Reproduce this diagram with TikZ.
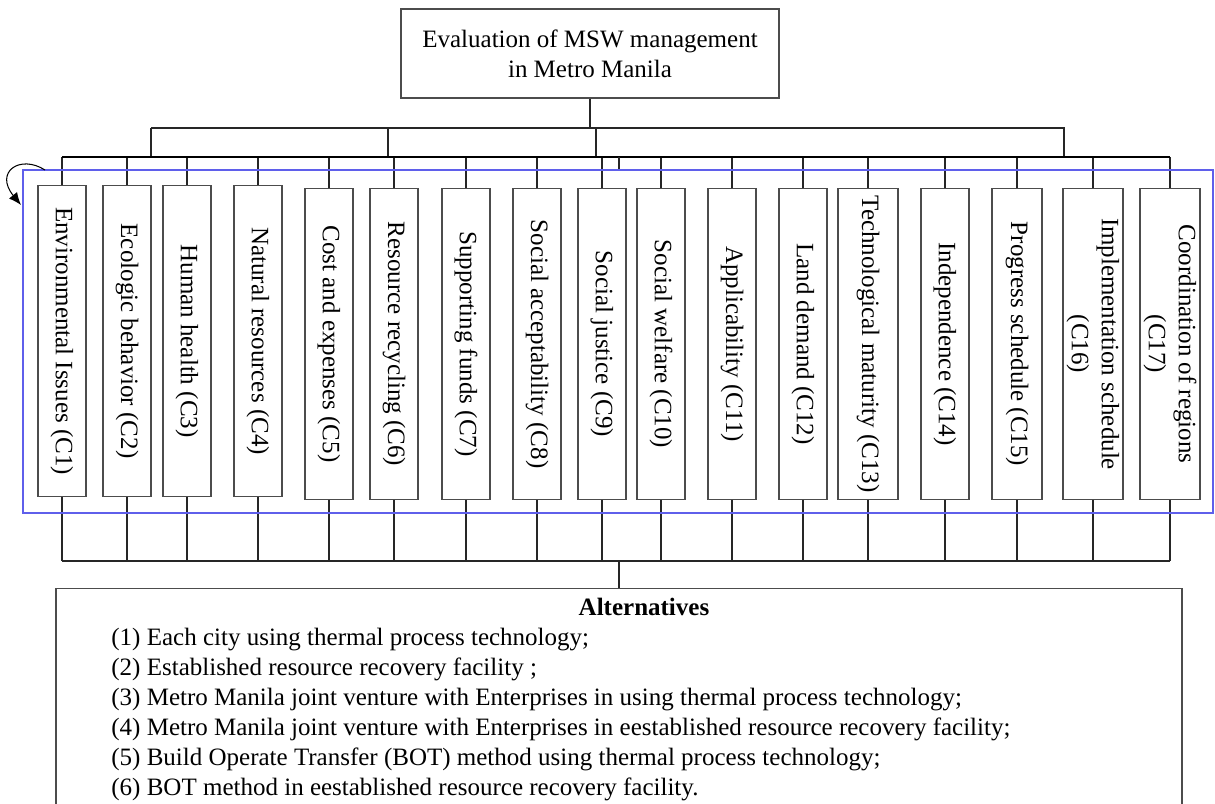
\documentclass[tikz,border=0pt]{standalone}
\usepackage{fontspec}
\setmainfont{Liberation Serif}
\usetikzlibrary{arrows.meta}

\newlength\pxu
\setlength\pxu{0.48pt}
\definecolor{grpblue}{RGB}{95,95,235}

\tikzset{
    link/.style={black!85,line width=0.5pt},
    critbox/.style={draw=black!70,line width=0.5pt,anchor=north,
        minimum height=311\pxu,inner sep=0pt},
    critlab/.style={rotate=-90,align=center,inner sep=0pt},
    altitem/.style={anchor=base west,inner sep=0pt}
}

\begin{document}
\begin{tikzpicture}[
    x=\pxu,y=-\pxu,
    font=\fontsize{12}{14.4}\selectfont
]
    \useasboundingbox (0,0) rectangle (1215,803);
    % goal
    \node[draw=black!70,line width=0.5pt,align=center,
        minimum width=378\pxu,minimum height=89\pxu] (goal) at (590,53.5)
        {Evaluation of MSW management\\in Metro Manila};
    \coordinate (upbus) at (0,128);
    \coordinate (topbus) at (0,157);
    \coordinate (lowbus) at (0,561);
    % criteria
    \foreach \k/\x/\w/\top/\lab in {
        1/62/48/185/{Environmental Issues (C1)},
        2/127/48/185/{Ecologic behavior (C2)},
        3/187/48/185/{Human health (C3)},
        4/258/48/185/{Natural resources (C4)},
        5/329/48/188/{Cost and expenses (C5)},
        6/394/48/188/{Resource recycling (C6)},
        7/466/48/188/{Supporting funds (C7)},
        8/537/48/188/{Social acceptability (C8)},
        9/602/48/188/{Social justice (C9)},
        10/661/48/188/{Social welfare (C10)},
        11/732/48/188/{Applicability (C11)},
        12/803/48/188/{Land demand (C12)},
        13/868/60/188/{Technological maturity (C13)},
        14/945/48/188/{Independence (C14)},
        15/1017/50/188/{Progress schedule (C15)},
        16/1093/60/188/{Implementation schedule\\(C16)},
        17/1170/60/188/{Coordination of regions\\(C17)}}
    {
        \node[critbox,minimum width=\w\pxu] (c\k) at (\x,\top) {};
        \node[critlab] (c\k t) at (c\k.center) {\lab};
        \draw[link] (c\k.north) -- (c\k.north |- topbus);
        \draw[link] (c\k.south) -- (c\k.south |- lowbus);
    }
    % upper buses
    \draw[link] (goal.south) -- (goal.south |- upbus);
    \foreach \d/\x in {1/151,2/388,3/596,4/1064}
        \coordinate (d\d) at (\x,128);
    \draw[link] (d1) -- (1065,128);
    \foreach \d in {1,...,4}
        \draw[link] (d\d) -- (d\d |- topbus);
    \draw[black,line width=0.9pt] (c1.north |- topbus) -- (c17.north |- topbus);
    \coordinate (tick) at (619,170);
    \draw[link] (tick |- topbus) -- (tick);
    % group frame and loop arrow
    \draw[grpblue,line width=0.6pt] (23,170) rectangle (1213,513);
    \coordinate (loopa) at (45,170);
    \coordinate (loopb) at (21,205);
    \draw[black,line width=0.5pt,-{Latex[length=6pt,width=5pt]}] (loopa)
        .. controls (20,154) and (-6,172) .. (loopb);
    % alternatives
    \draw[link] (c1.south |- lowbus) -- (c17.south |- lowbus);
    \node[draw=black!70,line width=0.5pt,anchor=north,
        minimum width=1126\pxu,minimum height=240\pxu] (alt) at (619,588) {};
    \draw[link] (alt.north) -- (alt.north |- lowbus);
    \node[anchor=base,inner sep=0pt,font=\fontsize{12}{14.4}\selectfont\bfseries]
        (alttitle) at (644,615) {Alternatives};
    \foreach \i/\t in {
        1/{(1) Each city using thermal process technology;},
        2/{(2) Established resource recovery facility ;},
        3/{(3) Metro Manila joint venture with Enterprises in using thermal process technology;},
        4/{(4) Metro Manila joint venture with Enterprises in eestablished resource recovery facility;},
        5/{(5) Build Operate Transfer (BOT) method using thermal process technology;},
        6/{(6) BOT method in eestablished resource recovery facility.}}
        \node[altitem] (a\i) at (111,{615+30*\i}) {\t};
\end{tikzpicture}
\end{document}
